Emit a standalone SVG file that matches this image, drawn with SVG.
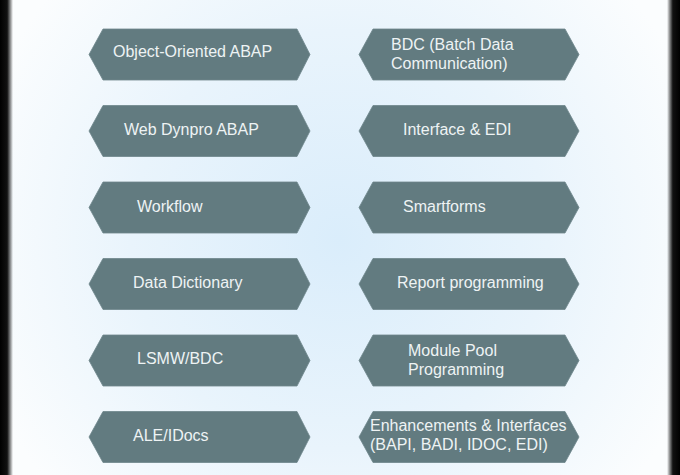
<svg xmlns="http://www.w3.org/2000/svg" width="680" height="475" viewBox="0 0 680 475">
<defs>
<radialGradient id="bg" cx="340" cy="240" r="380" gradientUnits="userSpaceOnUse">
<stop offset="0" stop-color="#daedfb"/>
<stop offset="0.55" stop-color="#e9f4fc"/>
<stop offset="1" stop-color="#fbfdfe"/>
</radialGradient>
<linearGradient id="lEdge" x1="0" x2="1" y1="0" y2="0">
<stop offset="0" stop-color="#000"/>
<stop offset="0.55" stop-color="#111"/>
<stop offset="1" stop-color="#000" stop-opacity="0"/>
</linearGradient>
<linearGradient id="rEdge" x1="1" x2="0" y1="0" y2="0">
<stop offset="0" stop-color="#000"/>
<stop offset="0.55" stop-color="#111"/>
<stop offset="1" stop-color="#000" stop-opacity="0"/>
</linearGradient>
<polygon id="hexL" points="0,25.5 14,0 208,0 221,25.5 208,51 14,51"/>
<polygon id="hexR" points="0,25.5 14,0 206,0 220,25.5 206,51 14,51"/>
</defs>
<style>
.hex{fill:#627b80;stroke:#6e878b;stroke-width:0.8}
.t{font-family:"Liberation Sans",Arial,sans-serif;font-size:16px;fill:#eef3f4}
</style>
<rect width="680" height="475" fill="url(#bg)"/>
<rect x="0" y="0" width="13" height="475" fill="url(#lEdge)"/>
<rect x="667" y="0" width="13" height="475" fill="url(#rEdge)"/>
<g id="connectors"/>
<g id="n1"><use href="#hexL" class="hex" x="89" y="29"/><text class="t" x="113" y="57">Object-Oriented ABAP</text></g>
<g id="n2"><use href="#hexL" class="hex" x="89" y="105.5"/><text class="t" x="124" y="134.5">Web Dynpro ABAP</text></g>
<g id="n3"><use href="#hexL" class="hex" x="89" y="182"/><text class="t" x="137" y="211.5">Workflow</text></g>
<g id="n4"><use href="#hexL" class="hex" x="89" y="258.5"/><text class="t" x="133" y="287.5">Data Dictionary</text></g>
<g id="n5"><use href="#hexL" class="hex" x="89" y="335"/><text class="t" x="137" y="364">LSMW/BDC</text></g>
<g id="n6"><use href="#hexL" class="hex" x="89" y="411.5"/><text class="t" x="133" y="440.5">ALE/IDocs</text></g>
<g id="n7"><use href="#hexR" class="hex" x="359" y="29"/><text class="t" x="391" y="50">BDC (Batch Data</text><text class="t" x="391" y="69">Communication)</text></g>
<g id="n8"><use href="#hexR" class="hex" x="359" y="105.5"/><text class="t" x="403" y="134.5">Interface &amp; EDI</text></g>
<g id="n9"><use href="#hexR" class="hex" x="359" y="182"/><text class="t" x="403" y="211.5">Smartforms</text></g>
<g id="n10"><use href="#hexR" class="hex" x="359" y="258.5"/><text class="t" x="397" y="287.5">Report programming</text></g>
<g id="n11"><use href="#hexR" class="hex" x="359" y="335"/><text class="t" x="408" y="356">Module Pool</text><text class="t" x="408" y="375">Programming</text></g>
<g id="n12"><use href="#hexR" class="hex" x="359" y="411.5"/><text class="t" x="370" y="431">Enhancements &amp; Interfaces</text><text class="t" x="370" y="450">(BAPI, BADI, IDOC, EDI)</text></g>
</svg>
